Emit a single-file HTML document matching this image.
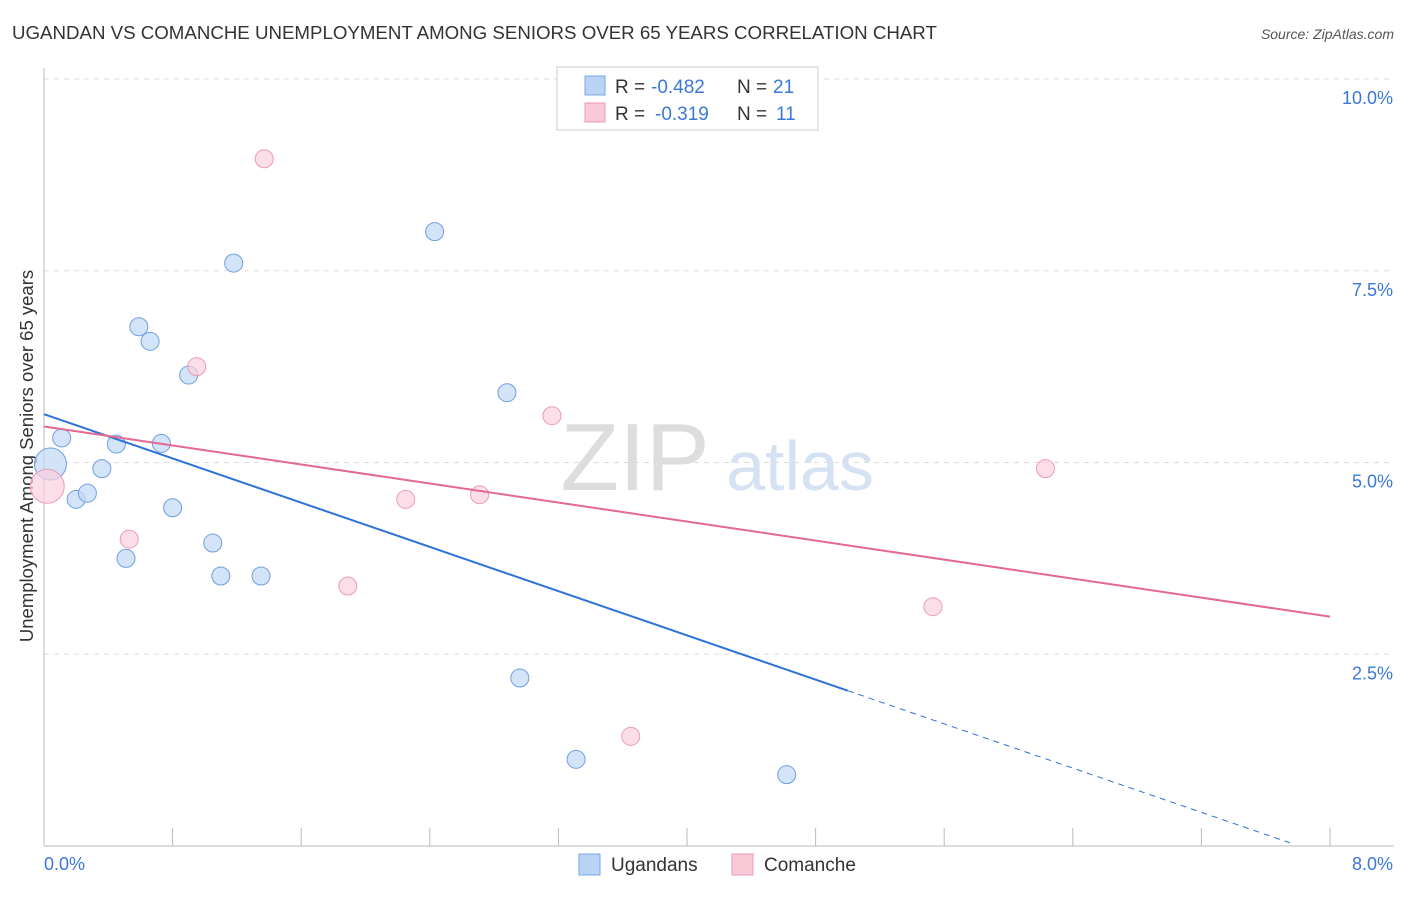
<!DOCTYPE html>
<html><head><meta charset="utf-8"><style>
body{margin:0;background:#fff;font-family:"Liberation Sans",sans-serif;}
svg text{font-family:"Liberation Sans",sans-serif;}
</style></head><body>
<svg width="1406" height="892">
<text x="12" y="39" font-size="18.7" fill="#333">UGANDAN VS COMANCHE UNEMPLOYMENT AMONG SENIORS OVER 65 YEARS CORRELATION CHART</text>
<text x="1394" y="39" font-size="14" fill="#555" font-style="italic" text-anchor="end">Source: ZipAtlas.com</text>
<text x="0" y="0" transform="translate(33,456) rotate(-90)" font-size="18.5" fill="#333" text-anchor="middle">Unemployment Among Seniors over 65 years</text>
<text x="635" y="490" font-size="96" fill="#ddd" font-family="Liberation Serif" text-anchor="middle">ZIP</text>
<text x="800" y="490" font-size="70" fill="#d5e2f3" text-anchor="middle">atlas</text>
<g id="grid"></g>
<g id="marks"></g>
<g>
<rect x="557" y="67" width="261" height="63" fill="#fff" stroke="#ccc"/>
<rect x="585" y="76" width="20" height="19" fill="#b9d3f5" stroke="#7aa6e6"/>
<rect x="585" y="103" width="20" height="19" fill="#f9c9d8" stroke="#ec9ab5"/>
<text x="615" y="93" font-size="19" fill="#333">R =</text>
<text x="651" y="93" font-size="19" fill="#3a78d8">-0.482</text>
<text x="737" y="93" font-size="19" fill="#333">N =</text>
<text x="773" y="93" font-size="19" fill="#3a78d8">21</text>
<text x="615" y="120" font-size="19" fill="#333">R =</text>
<text x="655" y="120" font-size="19" fill="#3a78d8">-0.319</text>
<text x="737" y="120" font-size="19" fill="#333">N =</text>
<text x="776" y="120" font-size="19" fill="#3a78d8">11</text>
</g>
<g>
<rect x="579" y="854" width="21" height="21" fill="#b9d3f5" stroke="#7aa6e6"/>
<text x="611" y="871" font-size="19" fill="#333">Ugandans</text>
<rect x="732" y="854" width="21" height="21" fill="#f9c9d8" stroke="#ec9ab5"/>
<text x="764" y="871" font-size="19" fill="#333">Comanche</text>
</g>
</svg>
<script>
const yTicks=[2.5,5.0,7.5,10.0];
const yTickLabels=["2.5%","5.0%","7.5%","10.0%"];
const xTickCount=10;
const xEndLabels=["0.0%","8.0%"];
const ugX=[0.11,0.04,0.20,0.27,0.36,0.45,0.51,0.59,0.66,0.73,0.80,0.90,1.05,1.10,1.18,1.35,2.43,2.88,2.96,3.31,4.62];
const ugY=[5.32,4.98,4.52,4.60,4.92,5.24,3.75,6.77,6.58,5.25,4.41,6.14,3.95,3.52,7.60,3.52,8.01,5.91,2.19,1.13,0.93];
const ugR=[9,16,9,9,9,9,9,9,9,9,9,9,9,9,9,9,9,9,9,9,9];
const coX=[0.02,0.53,0.95,1.37,1.89,2.25,2.71,3.16,3.65,5.53,6.23];
const coY=[4.69,4.00,6.25,8.96,3.39,4.52,4.58,5.61,1.43,3.12,4.92];
const coR=[17,9,9,9,9,9,9,9,9,9,9];
const ugTrend=[5.63,-0.721];
const coTrend=[5.47,-0.31];
const ugSolidEnd=5.0, ugDashEnd=7.75;
const NS="http://www.w3.org/2000/svg";
const xs=v=>44+v*160.75, ys=v=>846-v*76.7;
function mk(tag,attrs,parent){const e=document.createElementNS(NS,tag);for(const k in attrs)e.setAttribute(k,attrs[k]);parent.appendChild(e);return e;}
const grid=document.getElementById('grid'), marks=document.getElementById('marks');
yTicks.forEach((t,i)=>{
 const l=mk('line',{x1:44,x2:1394,y1:ys(t),y2:ys(t),stroke:'#ddd','stroke-dasharray':'5,5'},grid);
 
 
 const tx=mk('text',{x:1393,y:ys(t)+25,'font-size':18,fill:'#3a78d8','text-anchor':'end'},grid);
 tx.textContent=yTickLabels[i];
 
 
});
const ax=mk('line',{x1:44,x2:1394,y1:846,y2:846,stroke:'#bbb'},grid);


const ay=mk('line',{x1:44,x2:44,y1:68,y2:846,stroke:'#bbb'},grid);


for(let i=0;i<=xTickCount;i++){
 const x=xs(i*0.8);
 const t=mk('line',{x1:x,x2:x,y1:828,y2:846,stroke:'#bbb'},grid);
 
 
}
const xl0=mk('text',{x:44,y:870,'font-size':18,fill:'#3a78d8'},grid);xl0.textContent=xEndLabels[0];


const xl1=mk('text',{x:1393,y:870,'font-size':18,fill:'#3a78d8','text-anchor':'end'},grid);xl1.textContent=xEndLabels[1];


ugX.forEach((v,i)=>{
 const c=mk('circle',{cx:xs(v),cy:ys(ugY[i]),r:ugR[i],fill:'#c4daf6','fill-opacity':0.75,stroke:'#6f9fe0','stroke-width':1},marks);
 
 
});
coX.forEach((v,i)=>{
 const c=mk('circle',{cx:xs(v),cy:ys(coY[i]),r:coR[i],fill:'#fbd0de','fill-opacity':0.7,stroke:'#ec9ab5','stroke-width':1},marks);
 
 
});
const f=(t,x)=>t[0]+t[1]*x;
const l1=mk('line',{x1:xs(0),y1:ys(f(ugTrend,0)),x2:xs(ugSolidEnd),y2:ys(f(ugTrend,ugSolidEnd)),stroke:'#2f72d8','stroke-width':2},marks);


const l2=mk('line',{x1:xs(ugSolidEnd),y1:ys(f(ugTrend,ugSolidEnd)),x2:xs(ugDashEnd),y2:ys(f(ugTrend,ugDashEnd)),stroke:'#2f72d8','stroke-width':1,'stroke-dasharray':'6,5'},marks);


const l3=mk('line',{x1:xs(0),y1:ys(f(coTrend,0)),x2:xs(8),y2:ys(f(coTrend,8)),stroke:'#e4688f','stroke-width':2},marks);


</script>
</body></html>
